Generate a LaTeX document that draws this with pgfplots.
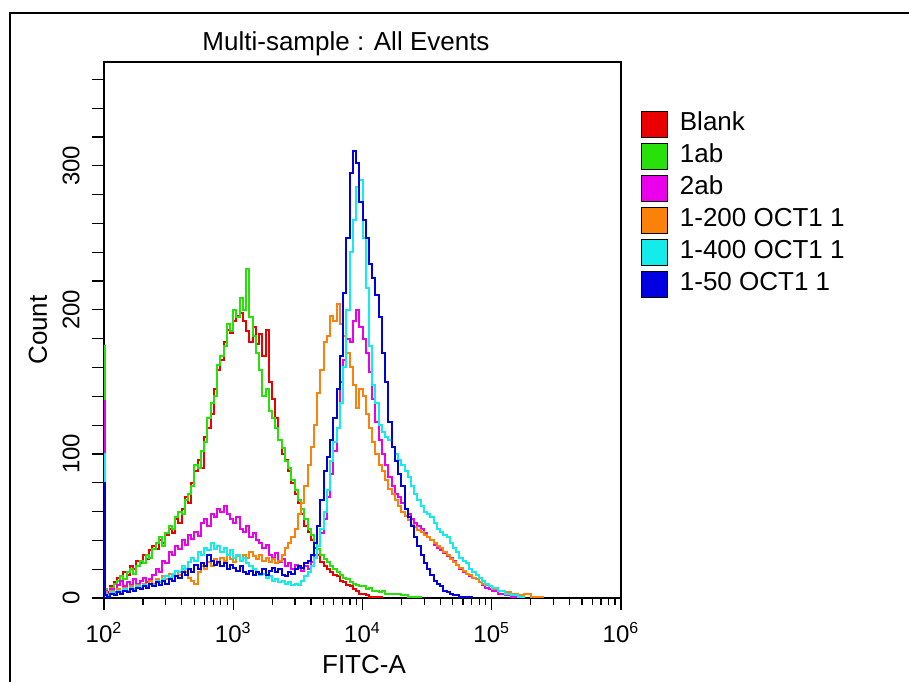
\documentclass[border=0pt]{standalone}
\usepackage{pgfplots}
\pgfplotsset{compat=1.18}
\usepackage{fontspec}
\setmainfont{Liberation Sans}
\definecolor{cRed}{RGB}{235,0,0}
\definecolor{cGreen}{RGB}{40,225,10}
\definecolor{cMag}{RGB}{235,0,235}
\definecolor{cOra}{RGB}{250,130,10}
\definecolor{cCya}{RGB}{20,235,235}
\definecolor{cBlu}{RGB}{0,0,225}
\begin{document}
\begin{tikzpicture}[font=\fontsize{13}{15}\selectfont]
\path[use as bounding box] (0,0) rectangle (454.5pt,341pt);
\draw[line width=1pt] (5pt,0pt) -- (5pt,334.5pt) -- (454.5pt,334.5pt);
\node[anchor=base] at (173pt,316pt) {Multi-sample : All Events};
\node[anchor=base] at (182pt,4.5pt) {FITC-A};
\node[rotate=90] at (19pt,176pt) {Count};
\begin{axis}[
  at={(52pt,42pt)}, anchor=south west, scale only axis,
  width=258.5pt, height=268pt,
  xmin=2, xmax=6, ymin=0, ymax=372,
  xtick={2,3,4,5,6},
  xticklabels={10\textsuperscript{2},10\textsuperscript{3},10\textsuperscript{4},10\textsuperscript{5},10\textsuperscript{6}},
  minor xtick={2.30103,2.47712,2.60206,2.69897,2.77815,2.84510,2.90309,2.95424,
               3.30103,3.47712,3.60206,3.69897,3.77815,3.84510,3.90309,3.95424,
               4.30103,4.47712,4.60206,4.69897,4.77815,4.84510,4.90309,4.95424,
               5.30103,5.47712,5.60206,5.69897,5.77815,5.84510,5.90309,5.95424},
  ytick={0,20,...,360},
  yticklabels={0,,,,,100,,,,,200,,,,,300,,,},
  tick align=outside, tick pos=left,
  major tick length=6pt, minor tick length=3.5pt,
  every tick/.style={black, line width=0.6pt},
  axis line style={line width=0.8pt},
  ticklabel style={font=\fontsize{12}{14}\selectfont},
  yticklabel style={rotate=90, anchor=south, inner sep=6pt},
  xticklabel style={inner sep=3pt, yshift=-3pt},
  legend style={at={(axis description cs:1,1)}, anchor=north west,
    xshift=10pt, yshift=-23pt, draw=none, fill=none, inner sep=0pt,
    font=\fontsize{13}{15}\selectfont, row sep=0pt,
    nodes={inner sep=1pt, text height=10pt, text depth=4pt}},
  legend cell align=left,
  legend image code/.code={\draw[fill, draw=black, line width=0.5pt] (0pt,-6.5pt) rectangle (13pt,6.5pt); \path[draw=none, fill=none] (0pt,-1pt) rectangle (18pt,1pt);},
  every axis plot/.append style={const plot, line width=1pt},
]
\addplot[cRed] coordinates {(2,0)(2,6)(2.025,4)(2.05,8)(2.075,11)(2.1,14)(2.125,12)(2.15,18)(2.175,16)(2.2,22)(2.225,20)(2.25,26)(2.275,24)(2.3,30)(2.325,27)(2.35,33)(2.375,36)(2.4,34)(2.425,40)(2.45,38)(2.475,44)(2.5,48)(2.525,45)(2.55,55)(2.575,52)(2.6,62)(2.625,70)(2.65,66)(2.675,80)(2.7,88)(2.725,96)(2.75,90)(2.775,112)(2.8,118)(2.825,128)(2.85,145)(2.875,158)(2.9,165)(2.925,178)(2.95,186)(2.975,184)(3,192)(3.025,196)(3.05,198)(3.075,192)(3.1,185)(3.125,178)(3.15,188)(3.175,176)(3.2,183)(3.225,168)(3.25,186)(3.275,150)(3.3,138)(3.325,125)(3.35,110)(3.375,100)(3.4,96)(3.425,88)(3.45,80)(3.475,72)(3.5,66)(3.525,58)(3.55,50)(3.575,46)(3.6,40)(3.625,35)(3.65,30)(3.675,25)(3.7,22)(3.725,20)(3.75,18)(3.775,16)(3.8,15)(3.825,12)(3.85,11)(3.875,9)(3.9,8)(3.925,6)(3.95,5)(3.975,3)(4,3)(4.025,2)(4.05,1)(4.1,1)(4.15,0)};
\addplot[cGreen] coordinates {(2,0)(2,175)(2.01,6)(2.025,3)(2.05,7)(2.075,10)(2.1,12)(2.125,15)(2.15,13)(2.175,18)(2.2,20)(2.225,17)(2.25,22)(2.275,26)(2.3,24)(2.325,30)(2.35,28)(2.375,34)(2.4,38)(2.425,42)(2.45,36)(2.475,45)(2.5,50)(2.525,48)(2.55,56)(2.575,60)(2.6,58)(2.625,68)(2.65,72)(2.675,78)(2.7,92)(2.725,90)(2.75,102)(2.775,108)(2.8,125)(2.825,135)(2.85,140)(2.875,162)(2.9,168)(2.925,175)(2.95,190)(2.975,185)(3,200)(3.025,195)(3.05,208)(3.075,200)(3.1,228)(3.125,195)(3.15,182)(3.175,170)(3.2,158)(3.225,140)(3.25,145)(3.275,130)(3.3,125)(3.325,118)(3.35,110)(3.375,104)(3.4,95)(3.425,90)(3.45,82)(3.475,75)(3.5,68)(3.525,62)(3.55,55)(3.575,48)(3.6,44)(3.625,38)(3.65,34)(3.675,30)(3.7,27)(3.725,25)(3.75,22)(3.775,20)(3.8,18)(3.825,16)(3.85,14)(3.875,13)(3.9,11)(3.925,10)(3.95,9)(3.975,8)(4,8)(4.025,6)(4.05,7)(4.075,5)(4.1,5)(4.125,4)(4.15,5)(4.175,3)(4.2,3)(4.25,3)(4.3,2)(4.35,1)(4.4,1)(4.45,0)};
\addplot[cMag] coordinates {(2,0)(2,137)(2.01,5)(2.025,3)(2.05,6)(2.075,4)(2.1,9)(2.125,12)(2.15,8)(2.175,11)(2.2,9)(2.225,13)(2.25,10)(2.275,12)(2.3,14)(2.325,11)(2.35,13)(2.375,16)(2.4,20)(2.425,18)(2.45,26)(2.475,24)(2.5,32)(2.525,30)(2.55,36)(2.575,34)(2.6,40)(2.625,37)(2.65,44)(2.675,41)(2.7,46)(2.725,43)(2.75,52)(2.775,55)(2.8,50)(2.825,58)(2.85,56)(2.875,62)(2.9,60)(2.925,64)(2.95,58)(2.975,55)(3,52)(3.025,56)(3.05,48)(3.075,46)(3.1,50)(3.125,42)(3.15,45)(3.175,40)(3.2,38)(3.225,35)(3.25,37)(3.275,30)(3.3,28)(3.325,31)(3.35,25)(3.375,27)(3.4,22)(3.425,24)(3.45,20)(3.475,23)(3.5,21)(3.525,19)(3.55,22)(3.575,20)(3.6,25)(3.625,30)(3.65,36)(3.675,45)(3.7,55)(3.725,70)(3.75,86)(3.775,102)(3.8,118)(3.825,150)(3.85,165)(3.875,180)(3.9,178)(3.925,192)(3.95,200)(3.975,188)(4,180)(4.025,170)(4.05,157)(4.075,138)(4.1,122)(4.125,110)(4.15,100)(4.175,92)(4.2,84)(4.225,78)(4.25,72)(4.275,70)(4.3,66)(4.325,62)(4.35,58)(4.375,55)(4.4,52)(4.425,50)(4.45,48)(4.475,45)(4.5,42)(4.525,40)(4.55,37)(4.575,35)(4.6,33)(4.625,31)(4.65,29)(4.675,28)(4.7,26)(4.725,23)(4.75,20)(4.775,18)(4.8,17)(4.825,15)(4.85,14)(4.875,13)(4.9,11)(4.925,9)(4.95,7)(4.975,6)(5,5)(5.05,3)(5.1,2)(5.15,1)(5.2,0)};
\addplot[cOra] coordinates {(2,0)(2,4)(2.025,2)(2.05,5)(2.075,3)(2.1,6)(2.125,4)(2.15,7)(2.175,5)(2.2,8)(2.225,6)(2.25,9)(2.275,7)(2.3,10)(2.325,8)(2.35,12)(2.375,10)(2.4,13)(2.425,11)(2.45,15)(2.475,13)(2.5,17)(2.525,15)(2.55,19)(2.575,16)(2.6,20)(2.625,18)(2.65,14)(2.675,12)(2.7,10)(2.725,18)(2.75,22)(2.775,20)(2.8,25)(2.825,22)(2.85,27)(2.875,24)(2.9,28)(2.925,26)(2.95,30)(2.975,27)(3,25)(3.025,29)(3.05,26)(3.075,30)(3.1,28)(3.125,32)(3.15,29)(3.175,27)(3.2,30)(3.225,26)(3.25,28)(3.275,25)(3.3,27)(3.325,24)(3.35,26)(3.375,30)(3.4,35)(3.425,38)(3.45,42)(3.475,48)(3.5,58)(3.525,66)(3.55,78)(3.575,92)(3.6,105)(3.625,120)(3.65,142)(3.675,158)(3.7,178)(3.725,182)(3.75,196)(3.775,192)(3.8,204)(3.825,190)(3.85,182)(3.875,170)(3.9,160)(3.925,148)(3.95,132)(3.975,145)(4,140)(4.025,128)(4.05,118)(4.075,108)(4.1,100)(4.125,92)(4.15,88)(4.175,82)(4.2,76)(4.225,72)(4.25,68)(4.275,64)(4.3,60)(4.325,57)(4.35,54)(4.375,51)(4.4,49)(4.425,47)(4.45,46)(4.475,44)(4.5,42)(4.525,40)(4.55,38)(4.575,36)(4.6,35)(4.625,32)(4.65,30)(4.675,27)(4.7,25)(4.725,23)(4.75,21)(4.775,19)(4.8,17)(4.825,16)(4.85,14)(4.875,13)(4.9,11)(4.925,10)(4.95,9)(4.975,8)(5,6)(5.05,5)(5.1,4)(5.15,3)(5.2,2)(5.25,3)(5.3,1)(5.35,1)(5.4,0)};
\addplot[cCya] coordinates {(2,0)(2,100)(2.01,3)(2.025,2)(2.05,4)(2.075,3)(2.1,5)(2.125,4)(2.15,6)(2.175,5)(2.2,7)(2.225,6)(2.25,8)(2.275,7)(2.3,9)(2.325,8)(2.35,10)(2.375,9)(2.4,12)(2.425,11)(2.45,13)(2.475,15)(2.5,14)(2.525,17)(2.55,19)(2.575,18)(2.6,22)(2.625,20)(2.65,25)(2.675,28)(2.7,26)(2.725,32)(2.75,30)(2.775,35)(2.8,33)(2.825,38)(2.85,34)(2.875,36)(2.9,32)(2.925,35)(2.95,30)(2.975,33)(3,28)(3.025,30)(3.05,26)(3.075,28)(3.1,24)(3.125,22)(3.15,20)(3.175,18)(3.2,16)(3.225,17)(3.25,14)(3.275,15)(3.3,12)(3.325,13)(3.35,11)(3.375,12)(3.4,10)(3.425,11)(3.45,9)(3.475,10)(3.5,9)(3.525,12)(3.55,15)(3.575,18)(3.6,22)(3.625,28)(3.65,36)(3.675,48)(3.7,60)(3.725,75)(3.75,95)(3.775,108)(3.8,118)(3.825,135)(3.85,160)(3.875,200)(3.9,240)(3.925,262)(3.95,285)(3.975,290)(4,250)(4.025,215)(4.05,175)(4.075,148)(4.1,135)(4.125,120)(4.15,115)(4.175,112)(4.2,110)(4.225,105)(4.25,100)(4.275,96)(4.3,92)(4.325,88)(4.35,84)(4.375,78)(4.4,72)(4.425,68)(4.45,64)(4.475,60)(4.5,58)(4.525,56)(4.55,52)(4.575,48)(4.6,46)(4.625,44)(4.65,42)(4.675,38)(4.7,35)(4.725,32)(4.75,28)(4.775,26)(4.8,24)(4.825,20)(4.85,18)(4.875,16)(4.9,14)(4.925,12)(4.95,10)(4.975,8)(5,7)(5.05,5)(5.1,3)(5.15,2)(5.2,1)(5.25,0)};
\addplot[cBlu] coordinates {(2,0)(2,80)(2.01,2)(2.025,1)(2.05,3)(2.075,2)(2.1,4)(2.125,3)(2.15,5)(2.175,4)(2.2,6)(2.225,5)(2.25,7)(2.275,6)(2.3,8)(2.325,7)(2.35,10)(2.375,8)(2.4,11)(2.425,9)(2.45,12)(2.475,10)(2.5,13)(2.525,12)(2.55,15)(2.575,14)(2.6,18)(2.625,16)(2.65,20)(2.675,18)(2.7,23)(2.725,20)(2.75,24)(2.775,22)(2.8,30)(2.825,26)(2.85,23)(2.875,25)(2.9,22)(2.925,24)(2.95,20)(2.975,23)(3,21)(3.025,19)(3.05,22)(3.075,18)(3.1,17)(3.125,19)(3.15,16)(3.175,18)(3.2,17)(3.225,20)(3.25,16)(3.275,19)(3.3,21)(3.325,18)(3.35,20)(3.375,16)(3.4,15)(3.425,18)(3.45,17)(3.475,20)(3.5,22)(3.525,21)(3.55,24)(3.575,26)(3.6,30)(3.625,38)(3.65,50)(3.675,68)(3.7,88)(3.725,98)(3.75,110)(3.775,125)(3.8,145)(3.825,168)(3.85,212)(3.875,250)(3.9,295)(3.925,310)(3.95,302)(3.975,275)(4,262)(4.025,250)(4.05,232)(4.075,222)(4.1,210)(4.125,195)(4.15,170)(4.175,150)(4.2,122)(4.225,105)(4.25,95)(4.275,86)(4.3,78)(4.325,62)(4.35,56)(4.375,50)(4.4,42)(4.425,36)(4.45,30)(4.475,24)(4.5,20)(4.525,16)(4.55,12)(4.575,10)(4.6,8)(4.625,5)(4.65,4)(4.675,3)(4.7,2)(4.75,1)(4.8,1)(4.85,0)};
\legend{Blank,1ab,2ab,1-200 OCT1 1,1-400 OCT1 1,1-50 OCT1 1}
\end{axis}
\end{tikzpicture}
\end{document}
